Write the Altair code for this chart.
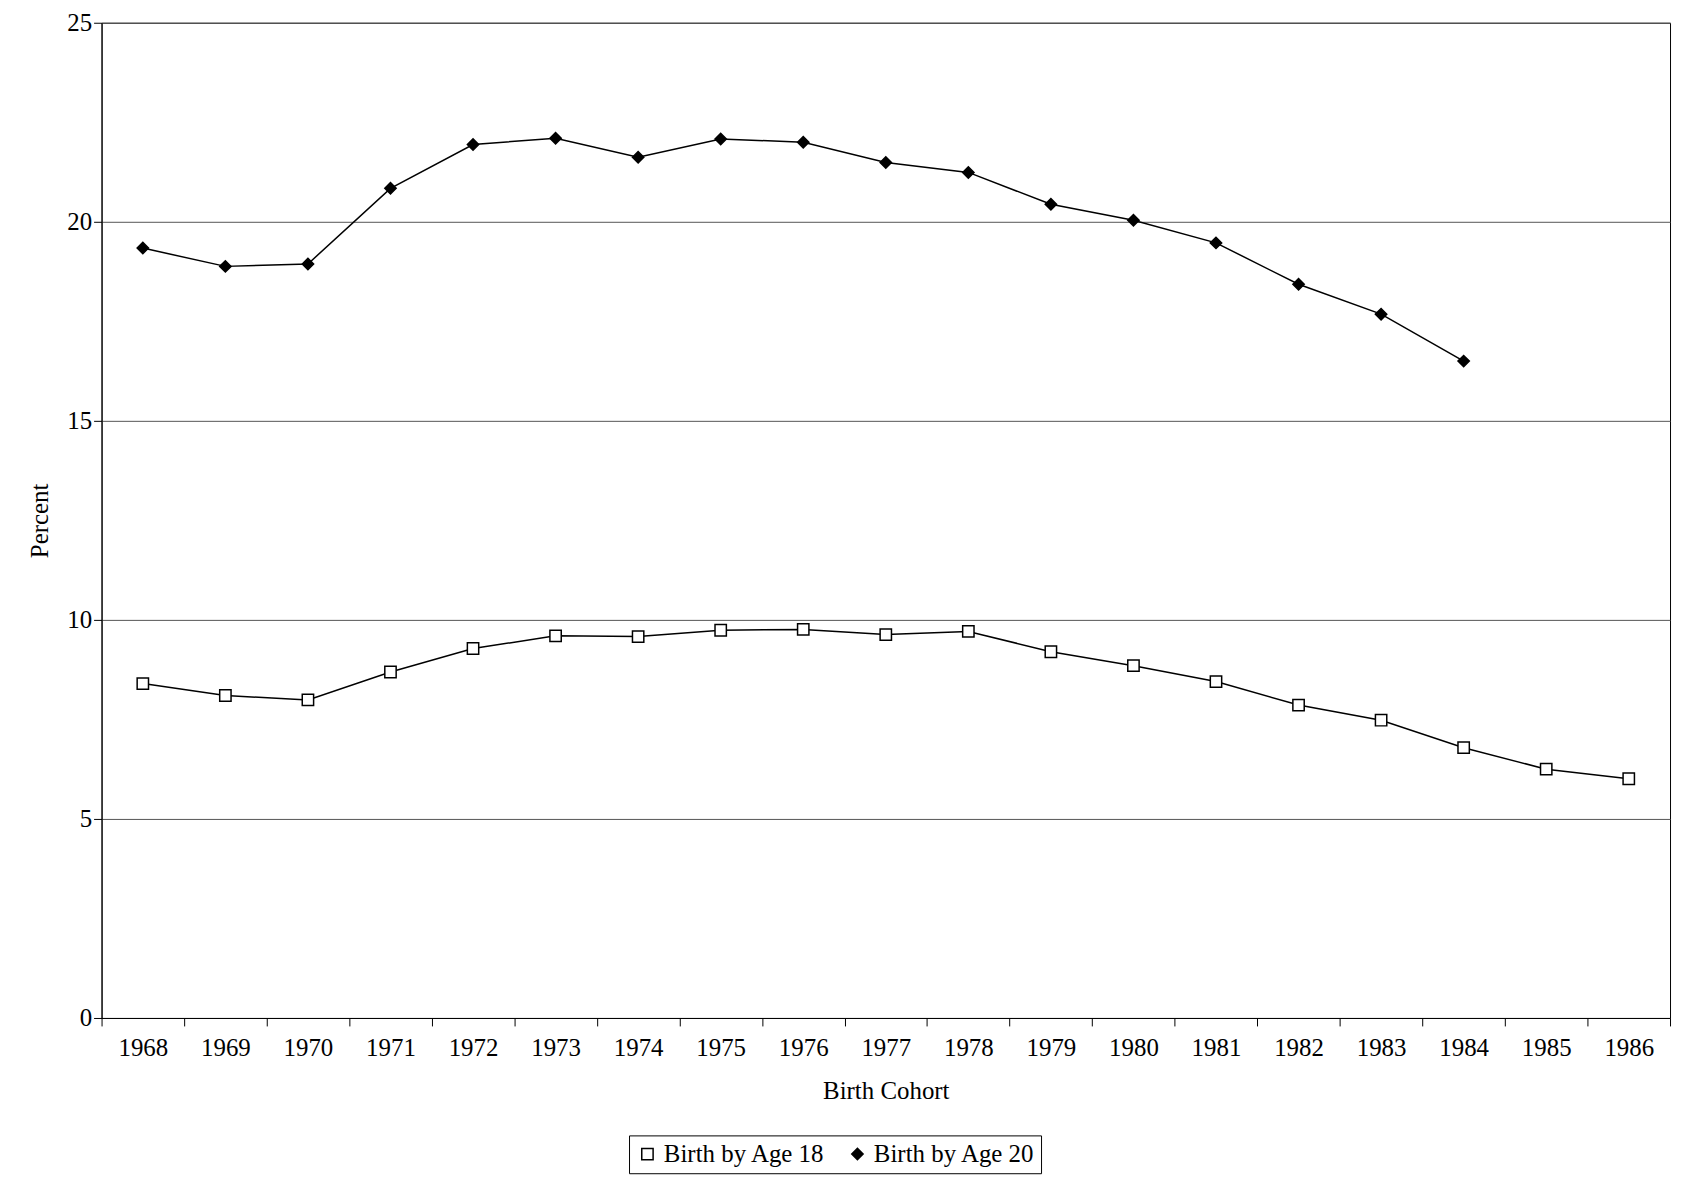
import altair as alt
import pandas as pd

years = list(range(1968, 1987))
age18 = [8.40, 8.10, 7.99, 8.69, 9.28, 9.60, 9.58, 9.74, 9.76, 9.63, 9.71,
         9.20, 8.85, 8.45, 7.86, 7.48, 6.79, 6.25, 6.01]
age20 = [19.34, 18.88, 18.94, 20.84, 21.94, 22.10, 21.62, 22.08, 22.00, 21.49,
         21.24, 20.44, 20.04, 19.47, 18.43, 17.68, 16.50]

rows = [{"year": str(y), "value": v, "series": "Birth by Age 18"} for y, v in zip(years, age18)]
rows += [{"year": str(y), "value": v, "series": "Birth by Age 20"} for y, v in zip(years, age20)]
df = pd.DataFrame(rows)

x = alt.X("year:O", title="Birth Cohort", sort=[str(y) for y in years],
          axis=alt.Axis(labelAngle=0, tickBand="extent", grid=False, titlePadding=18,
                        labelPadding=10, tickSize=8))
y = alt.Y("value:Q", title="Percent", scale=alt.Scale(domain=[0, 25]),
          axis=alt.Axis(values=[0, 5, 10, 15, 20, 25], grid=True, gridColor="#555",
                        tickSize=8, titlePadding=14))

base = alt.Chart(df)
lines = base.mark_line(color="black", strokeWidth=1.5).encode(x=x, y=y, detail="series:N")
pts = base.mark_point(opacity=1, strokeWidth=1.5, size=130).encode(
    x=x, y=y,
    shape=alt.Shape("series:N", title=None,
                    scale=alt.Scale(range=["square", "diamond"]),
                    legend=alt.Legend(orient="none", direction="horizontal",
                                      legendX=530, legendY=1118,
                                      strokeColor="black", padding=6,
                                      labelFontSize=25, symbolSize=130, labelLimit=0,
                                      symbolStrokeWidth=1.5, columnPadding=20,
                                      labelFont="Liberation Serif")),
    fill=alt.Fill("series:N", title=None, scale=alt.Scale(range=["white", "black"])),
    stroke=alt.Stroke("series:N", title=None, scale=alt.Scale(range=["black", "black"])),
)

chart = (lines + pts).properties(
    width=1576, height=1000, background="white",
    padding={"top": 0, "left": 20, "right": 5, "bottom": 5}
).configure_view(
    stroke="black"
).configure_axis(
    labelFont="Liberation Serif", titleFont="Liberation Serif",
    labelFontSize=25, titleFontSize=25, titleFontWeight="normal",
    labelColor="black", titleColor="black", domainColor="black", tickColor="black"
)

chart.save("out.html", embed_options={"renderer": "svg", "actions": False})
